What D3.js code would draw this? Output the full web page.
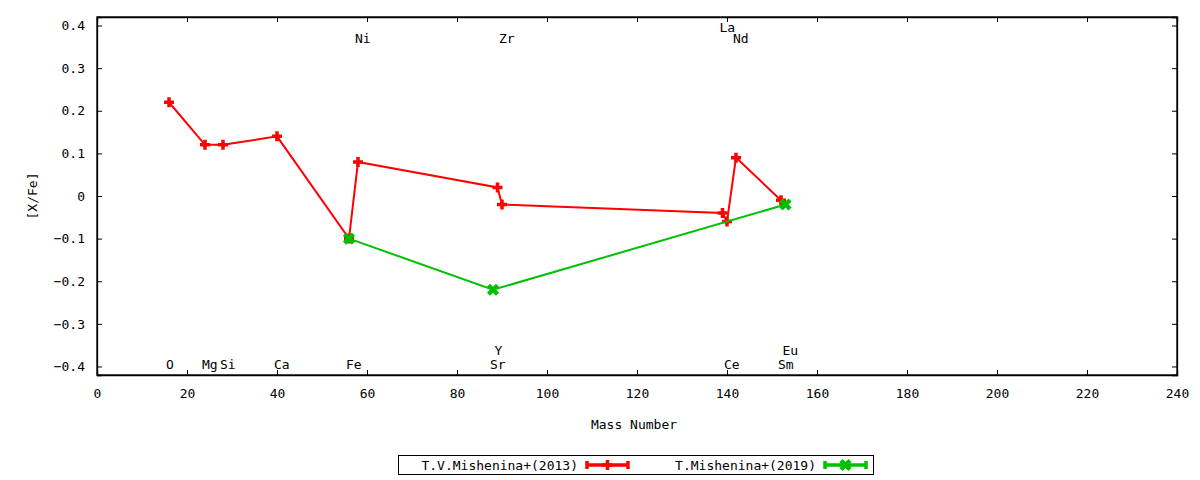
<!DOCTYPE html>
<html>
<head>
<meta charset="utf-8">
<script src="https://cdn.jsdelivr.net/npm/d3@7"></script>
<style>
  body { margin: 0; background: #fff; }
  text { font-family: "DejaVu Sans Mono", monospace; font-size: 13px; fill: #000; }
</style>
</head>
<body>
<script>
// abundance data
const redMass = [16, 24, 28, 40, 56, 58, 89, 90, 139, 140, 142, 152];
const redVal = [0.22, 0.12, 0.12, 0.14, -0.10, 0.08, 0.02, -0.02, -0.04, -0.06, 0.09, -0.01];
const greenMass = [56, 88, 153];
const greenVal = [-0.10, -0.22, -0.02];

// element name labels
const elemNames = ["O", "Mg", "Si", "Ca", "Fe", "Sr", "Ce", "Sm", "Y", "Eu", "Ni", "Zr", "Nd", "La"];
const elemMass = [16, 24, 28, 40, 56, 88, 140, 152, 89, 153, 58, 90, 142, 139];
const elemY = [-0.395, -0.395, -0.395, -0.395, -0.395, -0.395, -0.395, -0.395,
               -0.362, -0.362, 0.37, 0.37, 0.37, 0.395];

const xTicks = [0, 20, 40, 60, 80, 100, 120, 140, 160, 180, 200, 220, 240];
const yTicks = [-0.4, -0.3, -0.2, -0.1, 0, 0.1, 0.2, 0.3, 0.4];

const seriesNames = ["T.V.Mishenina+(2013)", "T.Mishenina+(2019)"];

window.onload = function() {
  const w = 1200;
  const h = 480;
  const left = 97, right = 1177, top = 17, bottom = 375;

  let svg = d3.select("body")
            .append("svg")
            .attr("width", w)
            .attr("height", h);

  let xScale = d3.scaleLinear().domain([0, 240]).range([left, right]);
  let yScale = d3.scaleLinear().domain([-0.42, 0.42]).range([bottom, top]);

  // axes, ticks pointing inwards, mirrored on the other sides
  svg.append("g")
     .attr("transform", "translate(0," + bottom + ")")
     .call(d3.axisBottom(xScale).tickValues(xTicks).tickSize(-5).tickPadding(14).tickFormat(d3.format("d")));
  svg.append("g")
     .attr("transform", "translate(0," + top + ")")
     .call(d3.axisTop(xScale).tickValues(xTicks).tickSize(-5).tickFormat(""));
  svg.append("g")
     .attr("transform", "translate(" + left + ",0)")
     .call(d3.axisLeft(yScale).tickValues(yTicks).tickSize(-5).tickPadding(12)
       .tickFormat(function(d) { return Math.abs(d) < 1e-9 ? "0" : d3.format(".1f")(d); }));
  svg.append("g")
     .attr("transform", "translate(" + right + ",0)")
     .call(d3.axisRight(yScale).tickValues(yTicks).tickSize(-5).tickFormat(""));

  svg.selectAll(".domain").attr("stroke", "#000").attr("stroke-width", 1.3);
  svg.selectAll(".tick line").attr("stroke", "#000");
  svg.selectAll(".tick text")
     .style("font-family", "DejaVu Sans Mono, monospace")
     .style("font-size", "13px");

  // border box
  svg.append("rect")
     .attr("x", left).attr("y", top)
     .attr("width", right - left).attr("height", bottom - top)
     .attr("fill", "none").attr("stroke", "#000").attr("stroke-width", 1.3);

  // axis titles
  svg.append("text")
     .attr("x", 634).attr("y", 429)
     .attr("text-anchor", "middle")
     .text("Mass Number");
  svg.append("text")
     .attr("transform", "translate(37,196) rotate(-90)")
     .attr("text-anchor", "middle")
     .text("[X/Fe]");

  // element labels
  svg.selectAll(".elem")
     .data(elemNames)
     .enter()
     .append("text")
     .attr("class", "elem")
     .attr("x", function(d, i) { return xScale(elemMass[i]) - 3; })
     .attr("y", function(d, i) { return yScale(elemY[i]); })
     .attr("dy", "0.35em")
     .text(function(d) { return d; });

  let line = d3.line()
               .x(function(d) { return xScale(d[0]); })
               .y(function(d) { return yScale(d[1]); });

  let red = redMass.map(function(m, i) { return [m, redVal[i]]; });
  let green = greenMass.map(function(m, i) { return [m, greenVal[i]]; });

  function plus(g, x, y, col) {
    g.append("path")
     .attr("d", "M" + (x - 5) + "," + y + "H" + (x + 5) + "M" + x + "," + (y - 5) + "V" + (y + 5))
     .attr("stroke", col).attr("stroke-width", 3.5).attr("fill", "none");
  }
  function cross(g, x, y, col) {
    g.append("path")
     .attr("d", "M" + (x - 4.5) + "," + (y - 4.5) + "L" + (x + 4.5) + "," + (y + 4.5) +
                "M" + (x - 4.5) + "," + (y + 4.5) + "L" + (x + 4.5) + "," + (y - 4.5))
     .attr("stroke", col).attr("stroke-width", 4.5).attr("fill", "none");
  }

  const redCol = "#ff0000";
  const greenCol = "#00c000";

  svg.append("path").datum(red)
     .attr("d", line).attr("fill", "none")
     .attr("stroke", redCol).attr("stroke-width", 2);
  let gr = svg.append("g");
  red.forEach(function(d) { plus(gr, xScale(d[0]), yScale(d[1]), redCol); });

  svg.append("path").datum(green)
     .attr("d", line).attr("fill", "none")
     .attr("stroke", greenCol).attr("stroke-width", 2);
  let gg = svg.append("g");
  green.forEach(function(d) { cross(gg, xScale(d[0]), yScale(d[1]), greenCol); });

  // legend
  svg.append("rect")
     .attr("x", 398.5).attr("y", 455.5).attr("width", 475).attr("height", 19)
     .attr("fill", "none").attr("stroke", "#000").attr("stroke-width", 1);

  const legX = [578, 816];
  const cols = [redCol, greenCol];
  seriesNames.forEach(function(name, i) {
    let x0 = legX[i];
    svg.append("text")
       .attr("x", x0).attr("y", 465).attr("dy", "0.35em")
       .attr("text-anchor", "end")
       .text(name);
    let g = svg.append("g");
    let s0 = x0 + 9, s1 = x0 + 50, yy = 465;
    g.append("path")
     .attr("d", "M" + s0 + "," + yy + "H" + s1 +
                "M" + s0 + "," + (yy - 4) + "V" + (yy + 4) +
                "M" + s1 + "," + (yy - 4) + "V" + (yy + 4))
     .attr("stroke", cols[i]).attr("stroke-width", 3.5).attr("fill", "none");
    if (i === 0) plus(g, (s0 + s1) / 2, yy, cols[i]);
    else cross(g, (s0 + s1) / 2, yy, cols[i]);
  });
};
</script>
</body>
</html>
